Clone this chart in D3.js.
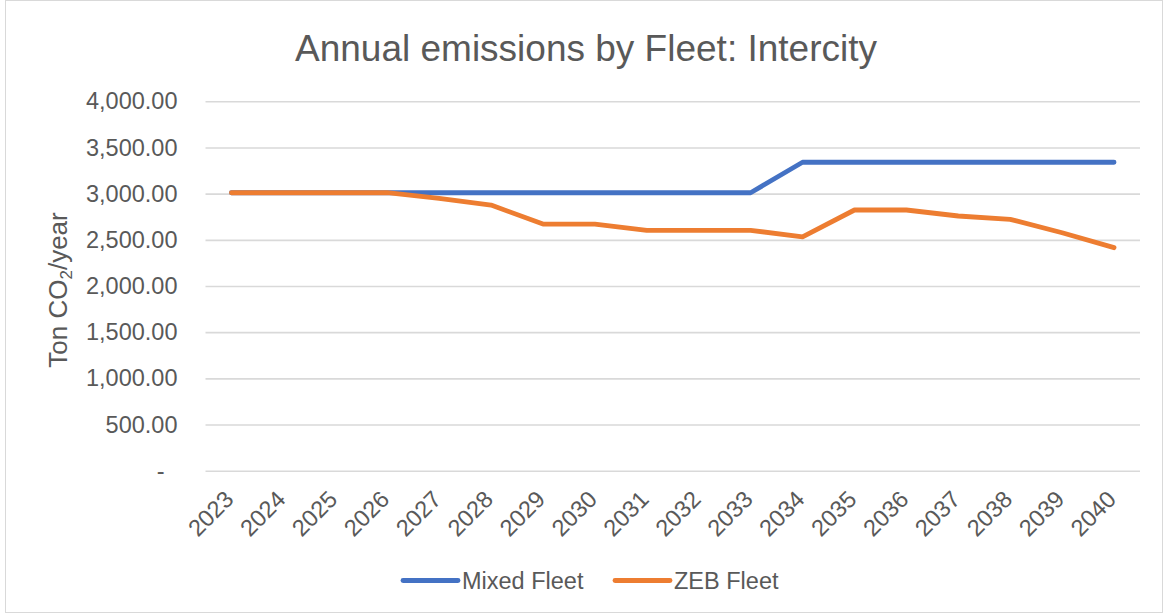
<!DOCTYPE html>
<html>
<head>
<meta charset="utf-8">
<script src="https://cdn.jsdelivr.net/npm/d3@7/dist/d3.min.js"></script>
<style>
  html, body { margin: 0; padding: 0; background: #fff; }
  svg { display: block; font-family: "Liberation Sans", Arial, sans-serif; }
</style>
</head>
<body>
<svg id="chart" width="1164" height="614"></svg>
<script>
// Annual CO2 emissions per fleet scenario, Intercity service
const years = ["2023","2024","2025","2026","2027","2028","2029","2030","2031","2032","2033","2034","2035","2036","2037","2038","2039","2040"];
const mixedFleet = [3010,3010,3010,3010,3010,3010,3010,3010,3010,3010,3010,3340,3340,3340,3340,3340,3340,3340];
const zebFleet   = [3010,3010,3010,3010,2950,2877,2671,2671,2603,2603,2603,2531,2823,2823,2758,2722,2577,2415];
const yTicks = [0,500,1000,1500,2000,2500,3000,3500,4000];
const seriesNames = ["Mixed Fleet","ZEB Fleet"];
const seriesColors = ["#4472C4","#ED7D31"];

const svg = d3.select("#chart");
const W = 1164, H = 614;
const m = { left: 205.5, right: 1140, top: 101.3, bottom: 470.7 };
const textColor = "#595959";
const gridColor = "#d9d9d9";

// outer chart border
svg.append("rect")
  .attr("x", 5.5).attr("y", 0.5)
  .attr("width", W - 7).attr("height", H - 2)
  .attr("fill", "#fff").attr("stroke", gridColor).attr("stroke-width", 1);

const x = d3.scalePoint().domain(years)
  .range([m.left, m.right]).padding(0.5);
const y = d3.scaleLinear().domain([0, 4000]).range([m.bottom, m.top]);

// horizontal gridlines + y labels
const fmt = d3.format(",.2f");
const yAxis = d3.axisLeft(y).tickValues(yTicks)
  .tickSize(-(m.right - m.left)).tickPadding(28)
  .tickFormat(d => d === 0 ? "-" : fmt(d));
const gy = svg.append("g").attr("transform", `translate(${m.left},0)`).call(yAxis);
gy.select(".domain").remove();
gy.selectAll(".tick line").attr("stroke", gridColor).attr("stroke-width", 1.6);
gy.selectAll(".tick text")
  .attr("fill", textColor).attr("font-size", 23.5)
  .attr("dx", d => d === 0 ? -13 : 0);

// x labels, rotated
const xAxis = d3.axisBottom(x).tickSize(0).tickPadding(0);
const gx = svg.append("g").attr("transform", `translate(0,${m.bottom})`).call(xAxis);
gx.select(".domain").remove();
gx.selectAll(".tick text")
  .attr("fill", textColor).attr("font-size", 23.5)
  .attr("text-anchor", "end")
  .attr("dy", 0)
  .attr("transform", "translate(3,30) rotate(-45)");

// series lines
const line = d3.line().x((d, i) => x(years[i])).y(d => y(d));
[mixedFleet, zebFleet].forEach((vals, k) => {
  svg.append("path")
    .datum(vals)
    .attr("d", line)
    .attr("fill", "none")
    .attr("stroke", seriesColors[k])
    .attr("stroke-width", 4.8)
    .attr("stroke-linecap", "round")
    .attr("stroke-linejoin", "round");
});

// title
svg.append("text")
  .attr("x", 586).attr("y", 61)
  .attr("text-anchor", "middle")
  .attr("fill", textColor).attr("font-size", 37)
  .text("Annual emissions by Fleet: Intercity");

// y axis title with subscript
const yt = svg.append("text")
  .attr("transform", "translate(67,290) rotate(-90)")
  .attr("text-anchor", "middle")
  .attr("fill", textColor).attr("font-size", 26);
yt.append("tspan").text("Ton CO");
yt.append("tspan").attr("font-size", 17).attr("dy", 5).text("2");
yt.append("tspan").attr("dy", -5).text("/year");

// legend
const legendX = [403, 615];
seriesNames.forEach((name, k) => {
  const g = svg.append("g");
  g.append("line")
    .attr("x1", legendX[k]).attr("x2", legendX[k] + 55)
    .attr("y1", 580.5).attr("y2", 580.5)
    .attr("stroke", seriesColors[k]).attr("stroke-width", 4.8)
    .attr("stroke-linecap", "round");
  g.append("text")
    .attr("x", legendX[k] + 59).attr("y", 589)
    .attr("fill", textColor).attr("font-size", 23.5)
    .text(name);
});
</script>
</body>
</html>
